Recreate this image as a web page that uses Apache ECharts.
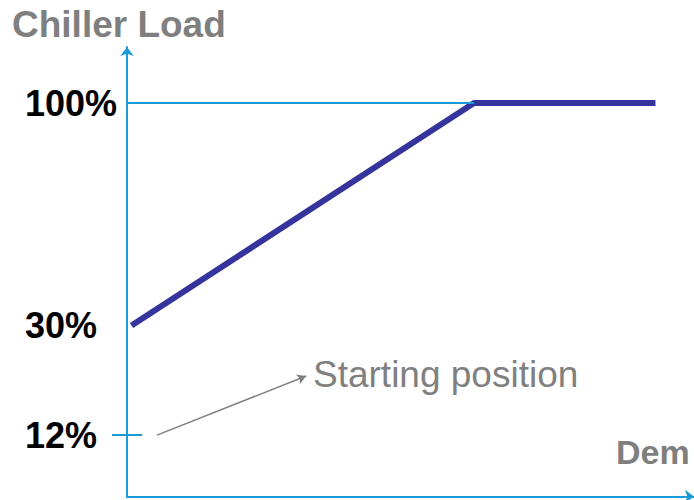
<!DOCTYPE html>
<html>
<head>
<meta charset="utf-8">
<script src="https://cdn.jsdelivr.net/npm/echarts@6/dist/echarts.min.js"></script>
<style>
html,body{margin:0;padding:0;background:#fff;}
#chart{width:694px;height:500px;}
</style>
</head>
<body>
<div id="chart"></div>
<script>
// ---- data (schematic chart) ----
var demand = [0.8, 61.2, 93.2];          // x positions (demand, schematic units)
var chillerLoad = [30, 100, 100];        // chiller load, %
var yTickValues = [100, 30, -4.5];       // schematic axis positions of the labels
var yTickLabels = ['100%', '30%', '12%'];
var startTickValue = -4.5;               // position of the 12% starting marker
var annotationText = 'Starting position';
var yAxisTitle = 'Chiller Load';
var xAxisTitle = 'Dem';

var FONT = '"Liberation Sans", Arial, sans-serif';
var AXIS_BLUE = '#1b9bd7';
var LINE_BLUE = '#34349c';
var GREY = '#808080';

var chart = echarts.init(document.getElementById('chart'), null, {renderer: 'svg'});

var labelMap = {};
yTickValues.forEach(function (v, i) { labelMap[v] = yTickLabels[i]; });

var option = {
  animation: false,
  grid: {left: 127, right: 0, top: 47, bottom: 3.5, containLabel: false},
  xAxis: {
    type: 'value', min: 0, max: 100,
    axisLine: {show: true, onZero: false, symbol: ['none', 'arrow'], symbolSize: [10, 9],
      lineStyle: {color: AXIS_BLUE, width: 2}},
    axisTick: {show: false}, axisLabel: {show: false}, splitLine: {show: false}
  },
  yAxis: {
    type: 'value', min: -23.8, max: 117.62,
    axisLine: {show: true, onZero: false, symbol: ['none', 'arrow'], symbolSize: [10, 9],
      lineStyle: {color: AXIS_BLUE, width: 2}},
    axisTick: {show: true, customValues: [startTickValue], length: 15, inside: false,
      lineStyle: {color: AXIS_BLUE, width: 2}},
    splitLine: {show: false},
    axisLabel: {
      show: true,
      customValues: yTickValues,
      formatter: function (v) { return labelMap[v] || ''; },
      align: 'left', margin: 102,
      fontFamily: FONT, fontWeight: 'bold', fontSize: 36, color: '#000'
    }
  },
  series: [{
    type: 'line',
    data: demand.map(function (x, i) { return [x, chillerLoad[i]]; }),
    showSymbol: false, symbol: 'none',
    lineStyle: {color: LINE_BLUE, width: 6},
    clip: false,
    markLine: {
      silent: true, animation: false,
      label: {show: false},
      data: [
        [{coord: [0, chillerLoad[1]], symbol: 'none', lineStyle: {color: AXIS_BLUE, width: 2, type: 'solid'}},
         {coord: [demand[1], chillerLoad[1]], symbol: 'none'}],
        [{coord: [0, startTickValue], symbol: 'none', lineStyle: {color: AXIS_BLUE, width: 2, type: 'solid'}},
         {coord: [2.65, startTickValue], symbol: 'none'}],
        [{coord: [5.29, startTickValue], symbol: 'none', lineStyle: {color: GREY, width: 1.5, type: 'solid'}},
         {coord: [31.6, 14.1], symbol: 'arrow', symbolSize: [8, 9]}]
      ]
    }
  }],
  graphic: [
    {type: 'text', left: 12, top: 6, style: {text: yAxisTitle, fill: '#7f7f7f',
      font: 'bold 37px ' + FONT}},
    {type: 'text', left: 313, top: 356, style: {text: annotationText, fill: GREY,
      font: '37px ' + FONT}},
    {type: 'text', left: 616, top: 435, style: {text: xAxisTitle, fill: '#7f7f7f',
      font: 'bold 34px ' + FONT}}
  ]
};
chart.setOption(option);
</script>
</body>
</html>
